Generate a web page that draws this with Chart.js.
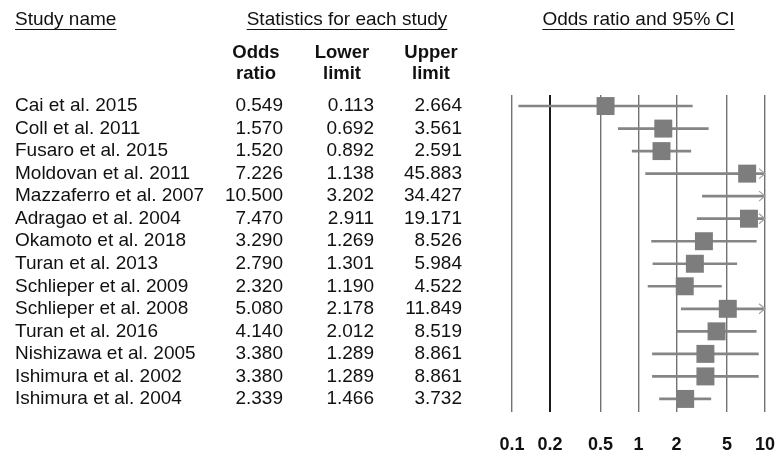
<!DOCTYPE html>
<html>
<head>
<meta charset="utf-8">
<title>Forest plot</title>
<script src="https://cdn.jsdelivr.net/npm/chart.js@4.4.1/dist/chart.umd.min.js"></script>
<style>
    html, body { margin: 0; padding: 0; background: #fff; }
    #wrap { width: 782px; height: 460px; }
</style>
</head>
<body>
<div id="wrap"><canvas id="forest" width="782" height="460"></canvas></div>
<script>
(function () {
    'use strict';

    var STUDIES = [
        'Cai et al. 2015', 'Coll et al. 2011', 'Fusaro et al. 2015', 'Moldovan et al. 2011',
        'Mazzaferro et al. 2007', 'Adragao et al. 2004', 'Okamoto et al. 2018', 'Turan et al. 2013',
        'Schlieper et al. 2009', 'Schlieper et al. 2008', 'Turan et al. 2016', 'Nishizawa et al. 2005',
        'Ishimura et al. 2002', 'Ishimura et al. 2004'
    ];
    var ODDS  = [0.549, 1.570, 1.520, 7.226, 10.500, 7.470, 3.290, 2.790, 2.320, 5.080, 4.140, 3.380, 3.380, 2.339];
    var LOWER = [0.113, 0.692, 0.892, 1.138, 3.202, 2.911, 1.269, 1.301, 1.190, 2.178, 2.012, 1.289, 1.289, 1.466];
    var UPPER = [2.664, 3.561, 2.591, 45.883, 34.427, 19.171, 8.526, 5.984, 4.522, 11.849, 8.519, 8.861, 8.861, 3.732];
    var X_TICKS = [0.1, 0.2, 0.5, 1, 2, 5, 10];
    var X_MIN = 0.1, X_MAX = 10;

    var FONT = '"Liberation Sans", Arial, sans-serif';
    var INK = '#111';
    var GREY = '#7d7d7d';

    // table columns + headers, positioned against the y scale
    var tablePlugin = {
        id: 'forestTable',
        afterDraw: function (chart) {
            var ctx = chart.ctx;
            var y = chart.scales.y;
            var area = chart.chartArea;
            ctx.save();
            ctx.fillStyle = INK;
            ctx.strokeStyle = INK;
            ctx.lineWidth = 1;

            ctx.font = '19px ' + FONT;
            ctx.textBaseline = 'alphabetic';
            function underlined(text, cx, align) {
                var w = ctx.measureText(text).width;
                var left = align === 'left' ? cx : cx - w / 2;
                ctx.textAlign = 'left';
                ctx.fillText(text, left, 25);
                ctx.beginPath();
                ctx.moveTo(left, 29.5);
                ctx.lineTo(left + w, 29.5);
                ctx.stroke();
            }
            underlined('Study name', 15, 'left');
            underlined('Statistics for each study', 347, 'center');
            underlined('Odds ratio and 95% CI', (area.left + area.right) / 2, 'center');

            ctx.font = 'bold 18.5px ' + FONT;
            ctx.textAlign = 'center';
            [['Odds', 'ratio', 256], ['Lower', 'limit', 342], ['Upper', 'limit', 431]].forEach(function (h) {
                ctx.fillText(h[0], h[2], 58);
                ctx.fillText(h[1], h[2], 79);
            });

            ctx.font = '19px ' + FONT;
            ctx.textAlign = 'right';
            ctx.textBaseline = 'middle';
            STUDIES.forEach(function (s, i) {
                var py = y.getPixelForValue(i);
                ctx.fillText(ODDS[i].toFixed(3), 283, py);
                ctx.fillText(LOWER[i].toFixed(3), 374, py);
                ctx.fillText(UPPER[i].toFixed(3), 462, py);
            });
            ctx.restore();
        },
        afterDatasetsDraw: function (chart) {
            // arrow heads for intervals running past the axis
            var ctx = chart.ctx;
            var x = chart.scales.x;
            var y = chart.scales.y;
            var xr = x.getPixelForValue(X_MAX);
            ctx.save();
            ctx.strokeStyle = '#a0a0a0';
            ctx.lineWidth = 1.2;
            UPPER.forEach(function (u, i) {
                if (u <= X_MAX) return;
                var py = y.getPixelForValue(i);
                ctx.beginPath();
                ctx.moveTo(xr - 6, py - 5);
                ctx.lineTo(xr, py);
                ctx.lineTo(xr - 6, py + 5);
                ctx.stroke();
            });
            ctx.restore();
        }
    };

    var el = document.getElementById('forest');
    new Chart(el, {
        type: 'scatter',
        data: {
            datasets: [
                {
                    type: 'scatter',
                    label: 'Odds ratio',
                    data: ODDS.map(function (v, i) { return { x: v, y: i }; }),
                    pointStyle: 'rect',
                    pointRadius: function (c) { return ODDS[c.dataIndex] > X_MAX ? 0 : 12.7; },
                    backgroundColor: GREY,
                    borderWidth: 0,
                    order: 0
                },
                {
                    type: 'bar',
                    label: '95% CI',
                    indexAxis: 'y',
                    data: LOWER.map(function (lo, i) { return { x: [lo, UPPER[i]], y: i }; }),
                    backgroundColor: '#858585',
                    barThickness: 2,
                    borderSkipped: false,
                    clip: 0,
                    order: 1
                }
            ]
        },
        options: {
            responsive: false,
            animation: false,
            events: [],
            layout: { padding: { top: 95, left: 15, right: 17, bottom: 0 } },
            plugins: { legend: { display: false }, tooltip: { enabled: false } },
            scales: {
                x: {
                    type: 'logarithmic',
                    min: X_MIN,
                    max: X_MAX,
                    offset: false,
                    afterBuildTicks: function (s) { s.ticks = X_TICKS.map(function (v) { return { value: v }; }); },
                    afterFit: function (s) {
                        s.height = 48;
                        s.paddingLeft = 0;
                        s.paddingRight = 0;
                    },
                    border: { display: false },
                    grid: {
                        offset: false,
                        drawTicks: false,
                        color: function (c) { return c.tick && c.tick.value === 0.2 ? '#1a1a1a' : '#727272'; },
                        lineWidth: function (c) { return c.tick && c.tick.value === 0.2 ? 2 : 1.4; }
                    },
                    ticks: {
                        autoSkip: false,
                        maxRotation: 0,
                        padding: 22,
                        color: INK,
                        font: { family: FONT, size: 18, weight: 'bold' },
                        callback: function (v) { return String(v); }
                    }
                },
                y: {
                    type: 'linear',
                    reverse: true,
                    offset: false,
                    bounds: 'data',
                    min: -0.49,
                    max: 13.58,
                    afterBuildTicks: function (s) { s.ticks = STUDIES.map(function (n, i) { return { value: i }; }); },
                    afterFit: function (s) {
                        s.width = 497;
                        s.paddingTop = 0;
                        s.paddingBottom = 0;
                    },
                    border: { display: false },
                    grid: { display: false, offset: false },
                    ticks: {
                        crossAlign: 'far',
                        padding: 0,
                        autoSkip: false,
                        color: INK,
                        font: { family: FONT, size: 19 },
                        callback: function (v) { return STUDIES[v]; }
                    }
                }
            }
        },
        plugins: [tablePlugin]
    });
})();
</script>
</body>
</html>
